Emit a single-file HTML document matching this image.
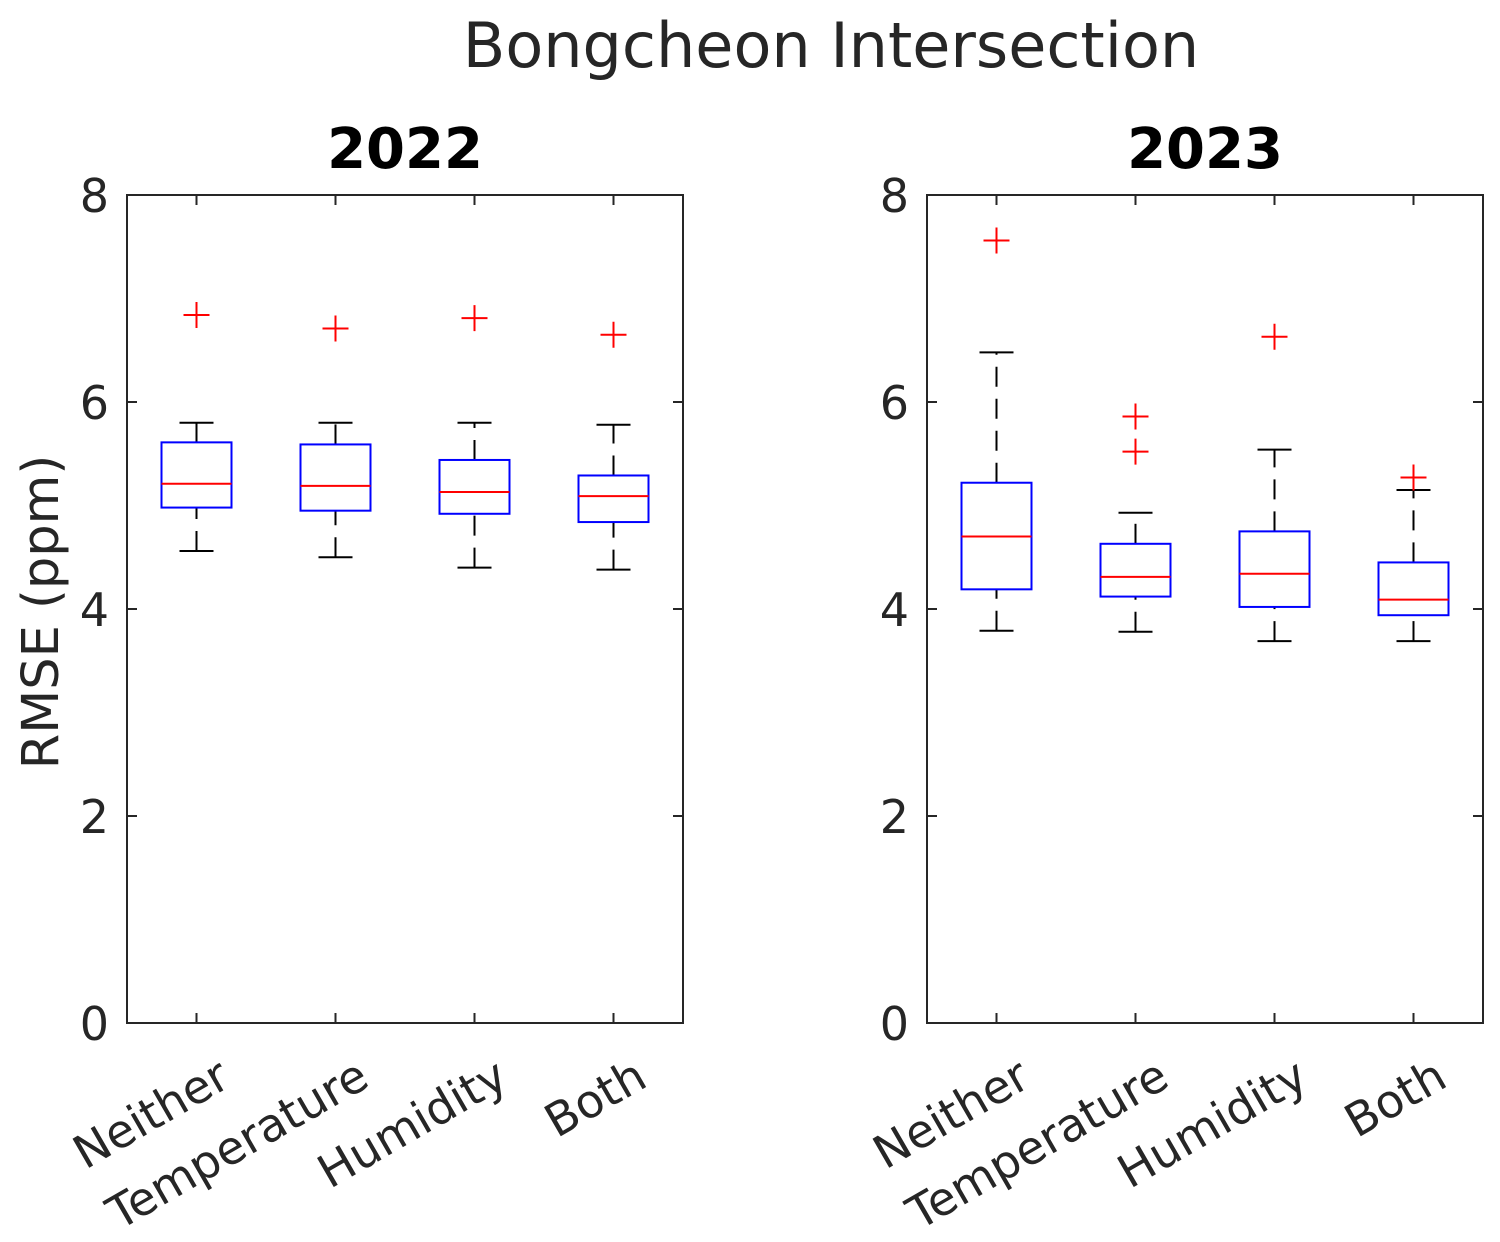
<!DOCTYPE html>
<html><head><meta charset="utf-8"><style>
html,body{margin:0;padding:0;background:#fff;}
svg{display:block;font-family:"DejaVu Sans","Liberation Sans",sans-serif;}
</style></head><body>
<svg id="chart" width="1500" height="1242" viewBox="0 0 1500 1242">
<text x="831" y="67" font-size="62" text-anchor="middle" fill="#262626">Bongcheon Intersection</text>
</svg>
<script>
const categories = ["Neither","Temperature","Humidity","Both"];
const years = ["2022","2023"];
// [whiskerLow, q1, median, q3, whiskerHigh]
const stats2022 = [[4.56,4.98,5.21,5.61,5.80],[4.50,4.95,5.19,5.59,5.80],[4.40,4.92,5.13,5.44,5.80],[4.38,4.84,5.09,5.29,5.78]];
const stats2023 = [[3.79,4.19,4.70,5.22,6.48],[3.78,4.12,4.31,4.63,4.93],[3.69,4.02,4.34,4.75,5.54],[3.69,3.94,4.09,4.45,5.15]];
const outliers2022 = [[6.84],[6.71],[6.81],[6.65]];
const outliers2023 = [[7.56],[5.86,5.52],[6.63],[5.27]];
const yTicks = [0,2,4,6,8];
const yMax = 8;

const NS="http://www.w3.org/2000/svg";
const svg=document.getElementById('chart');
function mk(tag,attrs,parent){const e=document.createElementNS(NS,tag);for(const k in attrs)e.setAttribute(k,attrs[k]);(parent||svg).appendChild(e);return e;}

const panels=[{x0:127,stats:stats2022,outs:outliers2022,year:years[0],ylabel:true},{x0:927,stats:stats2023,outs:outliers2023,year:years[1],ylabel:false}];
const PW=556, yTop=195, yBot=1023;
panels.forEach((p)=>{
  const g=mk('g',{});
  
  
  const yS=v=>yBot-(v/yMax)*(yBot-yTop);
  const xS=i=>p.x0+PW*(i+0.5)/categories.length;
  const frame=mk('rect',{x:p.x0,y:yTop,width:PW,height:yBot-yTop,fill:'none',stroke:'#262626','stroke-width':2},g);
  
  
  const t=mk('text',{x:p.x0+PW/2,y:168,'font-size':56,'font-weight':'bold','text-anchor':'middle',fill:'#000'},g);
  t.textContent=p.year;
  
  
  yTicks.forEach(v=>{
    const y=yS(v);
    mk('line',{x1:p.x0,x2:p.x0+10,y1:y,y2:y,stroke:'#262626','stroke-width':2},g);
    mk('line',{x1:p.x0+PW,x2:p.x0+PW-10,y1:y,y2:y,stroke:'#262626','stroke-width':2},g);
    const l=mk('text',{x:p.x0-18,y:y+17,'font-size':46,'text-anchor':'end',fill:'#262626'},g);
    l.textContent=v;
    
    
  });
  categories.forEach((c,i)=>{
    const x=xS(i);
    mk('line',{x1:x,x2:x,y1:yBot,y2:yBot-10,stroke:'#262626','stroke-width':2},g);
    mk('line',{x1:x,x2:x,y1:yTop,y2:yTop+10,stroke:'#262626','stroke-width':2},g);
    const lx=x+36, ly=yBot+62;
    const l=mk('text',{x:lx,y:ly,'font-size':46,'text-anchor':'end',fill:'#262626',transform:`rotate(-30 ${lx} ${ly})`},g);
    l.textContent=c;
    
    
    const s=p.stats[i];
    const bw=70, cw=34;
    const wl=mk('line',{x1:x,x2:x,y1:yS(s[0]),y2:yS(s[1]),stroke:'#000','stroke-width':2,'stroke-dasharray':'20,12'},g);
    
    
    const wh=mk('line',{x1:x,x2:x,y1:yS(s[3]),y2:yS(s[4]),stroke:'#000','stroke-width':2,'stroke-dasharray':'20,12'},g);
    
    
    mk('line',{x1:x-cw/2,x2:x+cw/2,y1:yS(s[0]),y2:yS(s[0]),stroke:'#000','stroke-width':2},g);
    mk('line',{x1:x-cw/2,x2:x+cw/2,y1:yS(s[4]),y2:yS(s[4]),stroke:'#000','stroke-width':2},g);
    const b=mk('rect',{x:x-bw/2,y:yS(s[3]),width:bw,height:yS(s[1])-yS(s[3]),fill:'none',stroke:'#0000ff','stroke-width':2},g);
    
    
    const m=mk('line',{x1:x-bw/2,x2:x+bw/2,y1:yS(s[2]),y2:yS(s[2]),stroke:'#ff0000','stroke-width':2},g);
    
    
    p.outs[i].forEach(v=>{
      const y=yS(v);
      const o=mk('path',{d:`M${x-13},${y}H${x+13}M${x},${y-13}V${y+13}`,stroke:'#ff0000','stroke-width':2,fill:'none'},g);
      
      
    });
  });
  if(p.ylabel){
    const cy=612;
    const yl=mk('text',{x:58,y:cy,'font-size':51,'text-anchor':'middle',fill:'#262626',transform:`rotate(-90 58 ${cy})`},g);
    yl.textContent='RMSE (ppm)';
    
    
  }
});
</script>
</body></html>
